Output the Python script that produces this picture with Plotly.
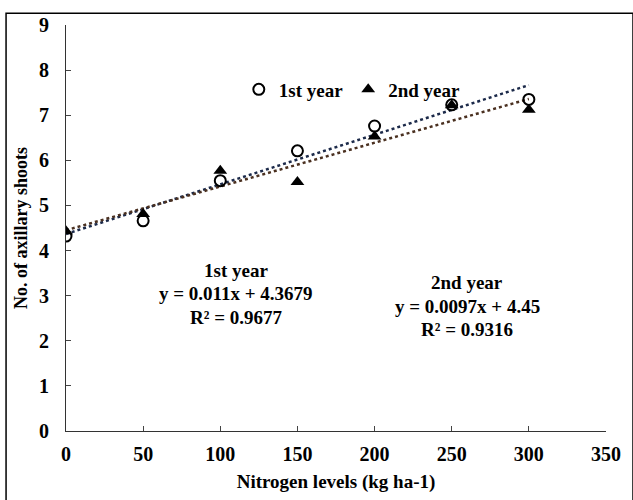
import plotly.graph_objects as go

nitrogen = [0, 50, 100, 150, 200, 250, 300]
year1 = [4.32, 4.66, 5.55, 6.21, 6.76, 7.23, 7.35]
year2 = [4.43, 4.81, 5.77, 5.52, 6.53, 7.22, 7.12]
fit1 = (0.011, 4.3679)
fit2 = (0.0097, 4.45)
x_ticks = [0, 50, 100, 150, 200, 250, 300, 350]
y_ticks = [0, 1, 2, 3, 4, 5, 6, 7, 8, 9]
label1 = ["1st year", "y = 0.011x + 4.3679", "R² = 0.9677"]
label2 = ["2nd year", "y = 0.0097x + 4.45", "R² = 0.9316"]

FONT = "Liberation Serif"
FS = 20

fig = go.Figure()
fig.add_trace(go.Scatter(x=[nitrogen[0], nitrogen[-1]],
                         y=[fit1[0] * nitrogen[0] + fit1[1], fit1[0] * nitrogen[-1] + fit1[1]],
                         mode="lines", line=dict(color="#1c2a4a", width=2.5, dash="dot"),
                         showlegend=False, hoverinfo="skip"))
fig.add_trace(go.Scatter(x=[nitrogen[0], nitrogen[-1]],
                         y=[fit2[0] * nitrogen[0] + fit2[1], fit2[0] * nitrogen[-1] + fit2[1]],
                         mode="lines", line=dict(color="#4a3020", width=2.5, dash="dot"),
                         showlegend=False, hoverinfo="skip"))
fig.add_trace(go.Scatter(x=nitrogen, y=year1, mode="markers", name="1st year",
                         marker=dict(symbol="circle-open", size=11, color="black",
                                     line=dict(width=2, color="black"))))
fig.add_trace(go.Scatter(x=nitrogen, y=year2, mode="markers", name="2nd year",
                         marker=dict(symbol="triangle-up", size=12, color="black")))

fig.update_layout(
    width=633, height=500,
    margin=dict(l=66, r=19, t=25, b=67),
    paper_bgcolor="white", plot_bgcolor="white",
    font=dict(family=FONT, size=FS, color="black"),
    showlegend=True,
    legend=dict(orientation="h", x=0.32, y=0.888, xanchor="left", yanchor="top",
                font=dict(family=FONT, size=FS - 1, color="black", weight="bold"),
                bgcolor="rgba(0,0,0,0)", itemwidth=30, tracegroupgap=0),
    xaxis=dict(range=[0, 350], tickvals=x_ticks, ticks="inside", ticklen=5,
               showline=True, linecolor="#333", linewidth=1.2, showgrid=False,
               zeroline=False, tickfont=dict(family=FONT, size=FS, weight="bold"),
               ticklabelstandoff=5,
               title=dict(text="Nitrogen levels (kg ha-1)", standoff=10,
                          font=dict(family=FONT, size=FS - 1, weight="bold"))),
    yaxis=dict(range=[0, 9], tickvals=y_ticks, ticks="inside", ticklen=5,
               showline=True, linecolor="#333", linewidth=1.2, showgrid=False,
               zeroline=False, tickfont=dict(family=FONT, size=FS, weight="bold"),
               ticklabelstandoff=12,
               title=dict(text="No. of axillary shoots", standoff=6,
                          font=dict(family=FONT, size=FS - 2, weight="bold"))),
)

for i, t in enumerate(label1):
    fig.add_annotation(x=110, y=3.56 - i * 0.52, xref="x", yref="y", showarrow=False,
                       text=t, font=dict(family=FONT, size=FS - 1, weight="bold"))
for i, t in enumerate(label2):
    fig.add_annotation(x=260, y=3.29 - i * 0.52, xref="x", yref="y", showarrow=False,
                       text=t, font=dict(family=FONT, size=FS - 1, weight="bold"))

fig.add_shape(type="rect", xref="paper", yref="paper",
              x0=-0.111, x1=1.05, y0=-0.2, y1=1.029,
              line=dict(color="black", width=1.5), fillcolor="rgba(0,0,0,0)", layer="below")

fig.write_html("out.html")
